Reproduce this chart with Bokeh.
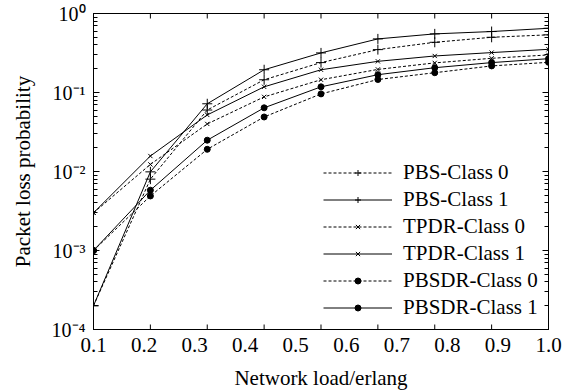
from bokeh.plotting import figure
from bokeh.models import (LogAxis, FixedTicker, LogTicker,
                          CustomJSTickFormatter, Range1d, Legend, LegendItem)
from bokeh.embed import file_html
from bokeh.resources import INLINE

# x positions of the data points (network load, erlang)
load = [0.1, 0.2125, 0.325, 0.4375, 0.55, 0.6625, 0.775, 0.8875, 1.0]
x_tick_labels = [0.1, 0.2, 0.3, 0.4, 0.5, 0.6, 0.7, 0.8, 0.9, 1.0]

# packet loss probability per series
pbs_class0 = [2.0e-4, 0.0080, 0.060, 0.145, 0.239, 0.349, 0.432, 0.500, 0.537]
pbs_class1 = [2.0e-4, 0.0099, 0.072, 0.194, 0.317, 0.477, 0.552, 0.591, 0.650]
tpdr_class0 = [3.0e-3, 0.0123, 0.040, 0.088, 0.145, 0.196, 0.237, 0.271, 0.299]
tpdr_class1 = [3.0e-3, 0.0157, 0.052, 0.118, 0.194, 0.248, 0.290, 0.320, 0.352]
pbsdr_class0 = [1.0e-3, 0.0049, 0.0191, 0.049, 0.096, 0.146, 0.178, 0.217, 0.241]
pbsdr_class1 = [1.0e-3, 0.0058, 0.0249, 0.064, 0.118, 0.168, 0.206, 0.239, 0.268]

series = [
    ("PBS-Class 0", pbs_class0, "dashed", "cross"),
    ("PBS-Class 1", pbs_class1, "solid", "cross"),
    ("TPDR-Class 0", tpdr_class0, "dashed", "x"),
    ("TPDR-Class 1", tpdr_class1, "solid", "x"),
    ("PBSDR-Class 0", pbsdr_class0, "dashed", "circle"),
    ("PBSDR-Class 1", pbsdr_class1, "solid", "circle"),
]

FONT = "Liberation Serif"
Y_MIN, Y_MAX = 1e-4, 1.0

p = figure(width=578, height=392, x_range=Range1d(0.1, 1.0),
           y_range=Range1d(Y_MIN, Y_MAX), y_axis_type="log",
           output_backend="svg", toolbar_location=None,
           min_border_left=93, min_border_right=30,
           min_border_top=13, min_border_bottom=63)
p.xgrid.visible = False
p.ygrid.visible = False
p.outline_line_color = "black"
p.outline_line_width = 1

# bottom axis with labels (no tick marks of its own)
bx = p.xaxis[0]
bx.ticker = FixedTicker(ticks=x_tick_labels)
bx.formatter = CustomJSTickFormatter(code="return tick.toFixed(1);")
bx.axis_label = "Network load/erlang"
bx.major_tick_line_color = None
bx.minor_tick_line_color = None
bx.major_tick_out = 0
bx.major_tick_in = 0
bx.axis_line_color = "black"
bx.major_label_standoff = 8
bx.major_label_text_font = FONT
bx.major_label_text_font_size = "21px"
bx.major_label_text_color = "black"
bx.axis_label_text_font = FONT
bx.axis_label_text_font_size = "21px"
bx.axis_label_text_font_style = "normal"
bx.axis_label_text_color = "black"
bx.axis_label_standoff = 11

sup_code = r"""
const e = Math.round(Math.log10(tick));
const sup = {'-': '\u207b', '0': '\u2070', '1': '\u00b9', '2': '\u00b2',
             '3': '\u00b3', '4': '\u2074', '5': '\u2075'};
return '10' + String(e).split('').map(c => sup[c]).join('');
"""

ly = p.yaxis[0]
ly.ticker = LogTicker(num_minor_ticks=10)
ly.formatter = CustomJSTickFormatter(code=sup_code)
ly.major_tick_in = 6
ly.major_tick_out = 0
ly.minor_tick_in = 4
ly.minor_tick_out = 0
ly.major_label_standoff = 8
ly.major_label_text_font = FONT
ly.major_label_text_font_size = "20px"
ly.major_label_text_color = "black"
ly.axis_label = "Packet loss probability"
ly.axis_label_text_font = FONT
ly.axis_label_text_font_size = "21px"
ly.axis_label_text_font_style = "normal"
ly.axis_label_text_color = "black"
ly.axis_label_standoff = 14

# right axis: ticks only
ry = LogAxis(ticker=LogTicker(num_minor_ticks=10),
             formatter=CustomJSTickFormatter(code="return '';"))
ry.major_tick_in = 6
ry.major_tick_out = 0
ry.minor_tick_in = 4
ry.minor_tick_out = 0
ry.major_label_text_font_size = "1px"
ry.major_label_standoff = 0
p.add_layout(ry, "right")

# tick marks on top and bottom frame edges at the data load positions
n = len(load)
p.scatter(load, [Y_MIN] * n, marker="dash", angle=1.5708, size=10,
          line_color="black", line_width=1)
p.scatter(load, [Y_MAX] * n, marker="dash", angle=1.5708, size=10,
          line_color="black", line_width=1)

items = []
for label, vals, dash, marker in series:
    ln = p.line(load, vals, line_color="black", line_width=1,
                line_dash=("3 2" if dash == "dashed" else "solid"))
    if marker == "cross":
        sc = p.scatter(load, vals, marker="cross", size=10,
                       line_color="black", line_width=1)
    elif marker == "x":
        sc = p.scatter(load, vals, marker="x", size=6,
                       line_color="black", line_width=1)
    else:
        sc = p.scatter(load, vals, marker="circle", size=6,
                       line_color="black", fill_color="black")
    items.append(LegendItem(label=label, renderers=[ln, sc]))

legend = Legend(items=items, location=(230, 8))
legend.margin = 0
legend.padding = 7
legend.spacing = 0
legend.glyph_width = 69
legend.glyph_height = 15
legend.label_height = 27
legend.label_standoff = 11
legend.border_line_color = None
legend.background_fill_alpha = 0
legend.label_text_font = FONT
legend.label_text_font_size = "21px"
legend.label_text_color = "black"
p.add_layout(legend)

open("out.html", "w").write(file_html(p, INLINE))
